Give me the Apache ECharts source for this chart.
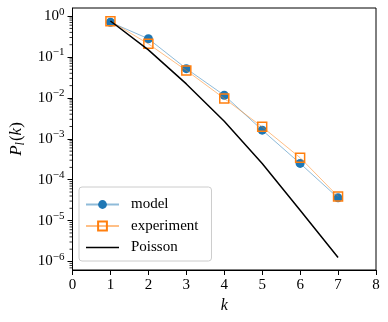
<!DOCTYPE html>
<html>
<head>
<meta charset="utf-8">
<script src="https://cdn.jsdelivr.net/npm/echarts@6/dist/echarts.min.js"></script>
<style>
  html, body { margin: 0; padding: 0; background: #fff; }
  #chart { width: 388px; height: 322px; }
</style>
</head>
<body>
<div id="chart"></div>
<script>
// data
var kValues = [1, 2, 3, 4, 5, 6, 7];
var modelValues = [0.71, 0.28, 0.052, 0.0116, 0.00163, 0.00025, 0.000036];
var experimentValues = [0.75, 0.21, 0.047, 0.0097, 0.00196, 0.000345, 0.000039];
var poissonValues = [0.76, 0.15, 0.022, 0.0027, 0.00025, 0.000018, 0.00000125];
var xTicks = [0, 1, 2, 3, 4, 5, 6, 7, 8];
var yMin = 6.2e-7, yMax = 1.58;

var font = 'Liberation Serif';

function pairs(xs, ys) {
  return xs.map(function (x, i) { return [x, ys[i]]; });
}

var chart = echarts.init(document.getElementById('chart'));

chart.setOption({
  animation: false,
  grid: {
    left: 71, right: 12, top: 8, bottom: 52,
    show: true, borderColor: '#000', borderWidth: 1, backgroundColor: 'transparent'
  },
  legend: {
    left: 79, top: 187,
    orient: 'vertical',
    itemWidth: 33, itemHeight: 11, itemGap: 6.5,
    padding: [10, 13, 6, 6],
    backgroundColor: 'rgba(255,255,255,0.8)',
    borderColor: '#cccccc', borderWidth: 1, borderRadius: 3,
    textStyle: { fontFamily: font, fontSize: 15, color: '#000', padding: [0, 0, 0, 7] },
    data: [
      'model',
      'experiment',
      { name: 'Poisson', icon: 'path://M0 0 L33 0 L33 1.5 L0 1.5 Z' }
    ]
  },
  xAxis: {
    type: 'value', min: 0, max: 8, interval: 1,
    name: 'k', nameLocation: 'middle', nameGap: 24,
    nameTextStyle: { fontFamily: font, fontSize: 16, fontStyle: 'italic', color: '#000' },
    axisLine: { lineStyle: { color: '#000', width: 1 } },
    axisTick: { show: true, length: 5, inside: false, lineStyle: { color: '#000' } },
    axisLabel: { fontFamily: font, fontSize: 15, color: '#000', margin: 8,
      formatter: function (v) { return xTicks.indexOf(v) >= 0 ? String(v) : ''; } },
    splitLine: { show: false }
  },
  yAxis: {
    type: 'log', logBase: 10, min: yMin, max: yMax, splitNumber: 7,
    name: '{i|P}{sub|l}{n|(}{i|k}{n|)}', nameLocation: 'middle', nameGap: 46, nameRotate: 90,
    nameTextStyle: {
      fontFamily: font, fontSize: 16, color: '#000',
      rich: {
        i: { fontFamily: font, fontSize: 17, fontStyle: 'italic' },
        n: { fontFamily: font, fontSize: 17 },
        sub: { fontFamily: font, fontSize: 12, fontStyle: 'italic', verticalAlign: 'bottom', padding: [8, 1, 0, 0] }
      }
    },
    axisLine: { show: true, lineStyle: { color: '#000', width: 1 } },
    axisTick: { show: true, length: 5, inside: false, lineStyle: { color: '#000' } },
    splitLine: { show: false },
    axisLabel: {
      margin: 8,
      showMinLabel: false, showMaxLabel: false,
      formatter: function (v) {
        var e = Math.round(Math.log10(v));
        if (Math.abs(Math.log10(v) - e) > 1e-6) return '';
        var s = e < 0 ? '\u2212' + (-e) : String(e);
        return '{b|10}{s|' + s + '}';
      },
      rich: {
        b: { fontFamily: font, fontSize: 15, color: '#000' },
        s: { fontFamily: font, fontSize: 11, color: '#000', padding: [0, 0, 9, 0] }
      }
    }
  },
  series: [
    {
      name: 'model', type: 'line',
      data: pairs(kValues, modelValues),
      symbol: 'circle', symbolSize: 9, z: 3,
      lineStyle: { color: '#1f77b4', width: 1, opacity: 0.5 },
      itemStyle: { color: '#1f77b4' }
    },
    {
      name: 'experiment', type: 'line',
      data: pairs(kValues, experimentValues),
      symbol: 'rect', symbolSize: 9, z: 4,
      lineStyle: { color: '#ff7f0e', width: 1, opacity: 0.5 },
      itemStyle: { color: 'rgba(255,255,255,0)', borderColor: '#ff7f0e', borderWidth: 1.5 }
    },
    {
      name: 'Poisson', type: 'line',
      data: pairs(kValues, poissonValues),
      showSymbol: false, symbol: 'none', z: 5,
      lineStyle: { color: '#000', width: 1.5 },
      itemStyle: { color: '#000' }
    }
  ]
});

// matplotlib style minor ticks on the log axis (2..9 x 10^n)
var minor = [];
for (var e = -7; e <= 0; e++) {
  for (var m = 2; m <= 9; m++) {
    var v = m * Math.pow(10, e);
    if (v < yMin || v > yMax) continue;
    var p = chart.convertToPixel({ gridIndex: 0 }, [0, v]);
    minor.push({
      type: 'line', silent: true,
      shape: { x1: p[0] - 3, y1: p[1], x2: p[0], y2: p[1] },
      style: { stroke: '#000', lineWidth: 0.8 }
    });
  }
}
chart.setOption({ graphic: minor });
</script>
</body>
</html>
